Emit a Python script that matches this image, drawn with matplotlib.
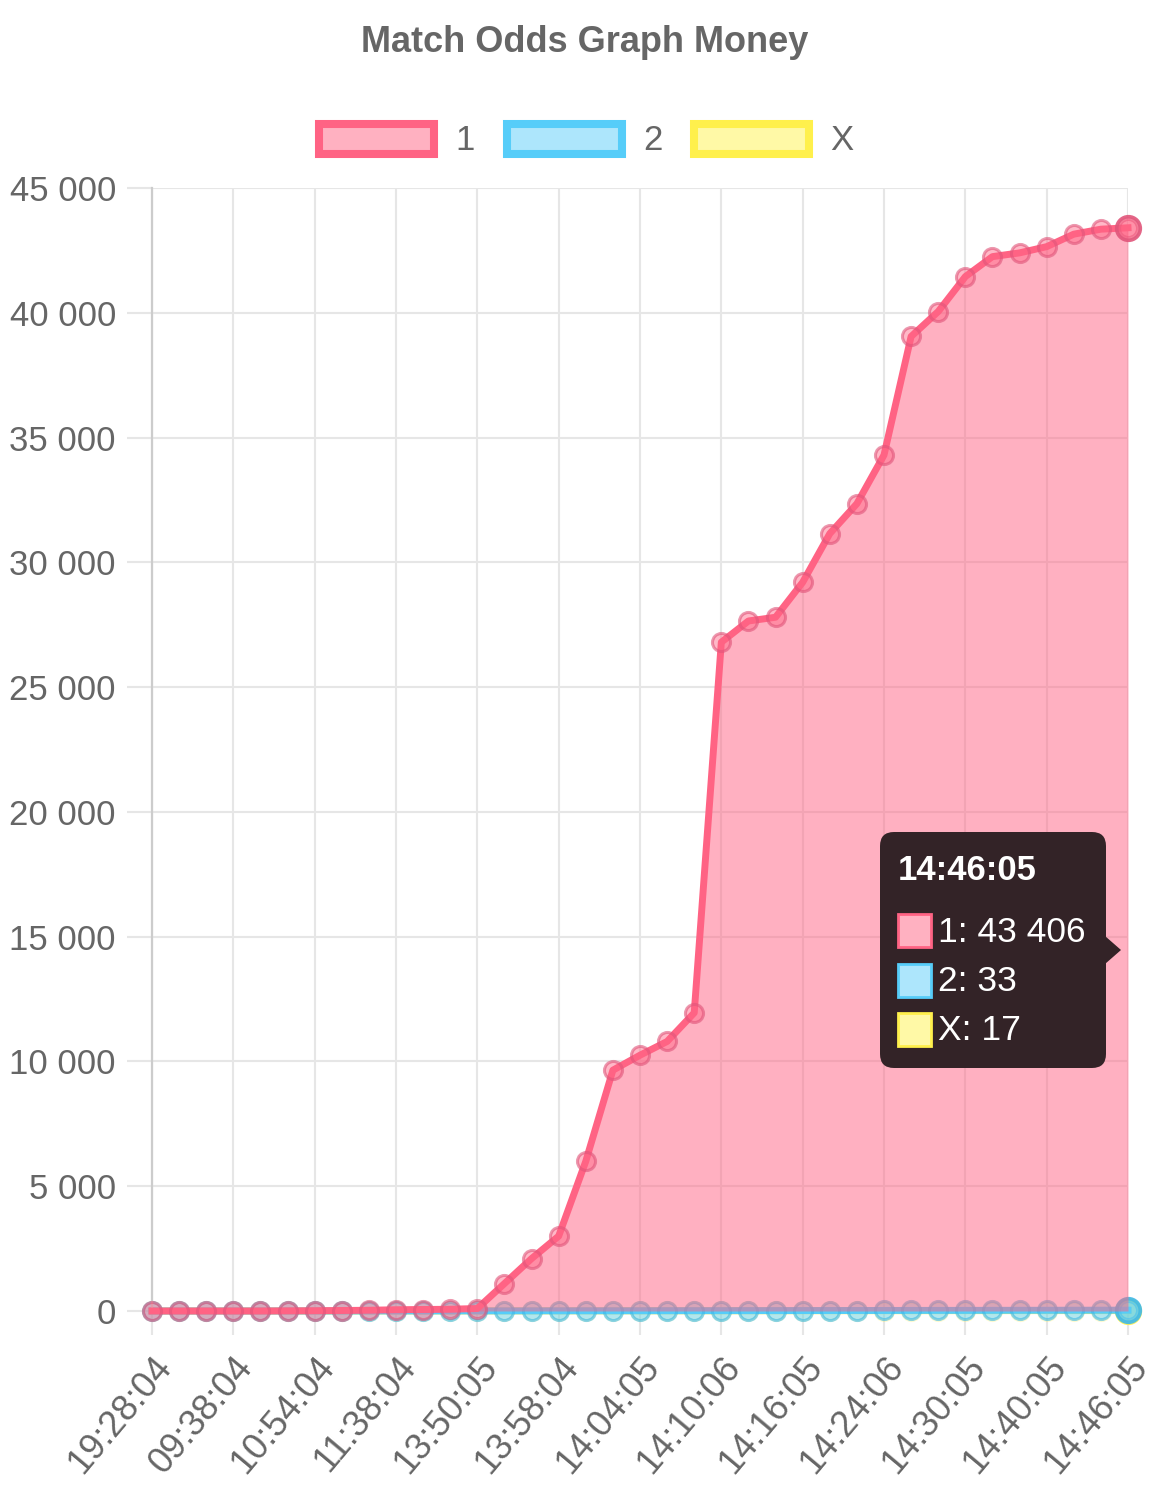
import matplotlib
matplotlib.use('Agg')
import matplotlib.pyplot as plt
from matplotlib.colors import to_rgba
from matplotlib.patches import Rectangle, FancyBboxPatch, Polygon
from matplotlib.ticker import FuncFormatter

plt.rcParams['font.family'] = ['Liberation Sans', 'DejaVu Sans']

title = 'Match Odds Graph Money'
series_names = ['1', '2', 'X']
tick_labels = ['19:28:04', '09:38:04', '10:54:04', '11:38:04', '13:50:05', '13:58:04',
               '14:04:05', '14:10:06', '14:16:05', '14:24:06', '14:30:05', '14:40:05', '14:46:05']
last_label = '14:46:05'

# money per point (37 points, one label shown every 3 points)
money_1 = [0, 0, 0, 0, 0, 5, 10, 20, 30, 50, 60, 70, 100, 1100, 2100, 3000, 6000, 9650,
           10250, 10800, 11950, 26800, 27650, 27800, 29200, 31150, 32350, 34300, 39050,
           40050, 41450, 42250, 42400, 42650, 43150, 43350, 43406]
money_2 = [0, 0, 0, 0, 0, 0, 0, 0, 1, 2, 2, 3, 4, 5, 7, 8, 9, 9, 10, 12, 13, 14, 15, 16,
           18, 19, 20, 21, 23, 24, 25, 27, 28, 29, 31, 32, 33]
money_x = [0, 0, 0, 0, 0, 0, 0, 0, 0, 1, 1, 1, 2, 3, 3, 4, 5, 5, 6, 6, 7, 8, 8, 9, 10,
           10, 11, 12, 12, 13, 14, 14, 15, 15, 16, 16, 17]

pink, pink_fill = '#ff6384', '#ffb1c1'
blue, blue_fill = '#56cdf9', '#ade6fc'
yellow, yellow_fill = '#fff04c', '#fff9a6'
grey = '#666666'

W, H = 1170, 1509
fig = plt.figure(figsize=(W / 100, H / 100), dpi=100)
ax = fig.add_axes([152 / W, (H - 1311) / H, (1128 - 152) / W, (1311 - 188) / H])

x = list(range(len(money_1)))
series = [(money_x, yellow, yellow_fill, 1), (money_2, blue, blue_fill, 2), (money_1, pink, pink_fill, 3)]
for vals, col, fcol, z in series:
    face_a, edge_a = (0.15, 0.25) if col == yellow else (0.45, 0.6)
    edge = '#e0557a' if col == pink else ('#3fb8e8' if col == blue else col)
    ax.fill_between(x, vals, 0, color=col, alpha=0.5, lw=0, zorder=z)
    ax.plot(x, vals, color=col, lw=5, zorder=z + 0.1, solid_joinstyle='round',
            marker='o', ms=13, mfc=to_rgba(col, face_a), mec=to_rgba(edge, edge_a), mew=2.2,
            clip_on=False)
    # hovered point
    ax.plot(x[-1], vals[-1], 'o', ms=17, mfc=to_rgba(col, 0.45),
            mec=to_rgba(edge, 0.9), mew=2.6, zorder=z + 0.2, clip_on=False)

ax.set_xlim(0, len(x) - 1)
ax.set_ylim(0, 45000)
ax.set_yticks(range(0, 45001, 5000))
ax.yaxis.set_major_formatter(FuncFormatter(lambda v, p: f'{int(v):,}'.replace(',', ' ')))
ax.set_xticks(range(0, len(x), 3))
ax.set_xticklabels(tick_labels, rotation=50, ha='right', va='top', rotation_mode='anchor')
ax.grid(True, color='#e6e6e6', lw=1.5, zorder=0)
ax.set_axisbelow(True)
for s in ['top', 'right', 'bottom']:
    ax.spines[s].set_visible(False)
ax.spines['left'].set_color('#cccccc')
ax.spines['left'].set_linewidth(1.6)
ax.tick_params(axis='y', length=18, width=1.5, color='#e6e6e6', pad=8, labelsize=25, labelcolor=grey)
ax.tick_params(axis='x', length=17, width=1.5, color='#e6e6e6', pad=11, labelsize=26, labelcolor=grey)

# overlay in pixel coordinates for title, legend and tooltip
ov = fig.add_axes([0, 0, 1, 1], zorder=10)
ov.set_xlim(0, W)
ov.set_ylim(H, 0)
ov.axis('off')

ov.text(585, 42, title, ha='center', va='center', fontsize=26, fontweight='bold', color=grey)

legend_x = [315, 503, 690]
for lx, name, (vals, col, fcol, z) in zip(legend_x, series_names, series[::-1]):
    ov.add_patch(Rectangle((lx + 4, 124), 115, 30, facecolor=fcol, edgecolor=col, lw=5.8))
    ov.text(lx + 140, 141, name, ha='left', va='center', fontsize=25, color=grey)

# tooltip
tip_bg = '#332327'
ov.add_patch(FancyBboxPatch((880, 832), 226, 236, boxstyle='round,pad=0,rounding_size=14',
                            facecolor=tip_bg, edgecolor='none'))
ov.add_patch(Polygon([(1105, 936), (1121, 950), (1105, 964)], closed=True, facecolor=tip_bg, edgecolor='none'))
ov.text(898, 871, last_label, ha='left', va='center', fontsize=25, fontweight='bold', color='white')
for i, (name, (vals, col, fcol, z)) in enumerate(zip(series_names, series[::-1])):
    cy = 931 + i * 49.5
    ov.add_patch(Rectangle((897.5, cy - 17), 33, 33, facecolor=fcol, edgecolor=col, lw=2))
    val = f'{vals[-1]:,}'.replace(',', ' ')
    ov.text(938, cy + 1, f'{name}: {val}', ha='left', va='center', fontsize=25.5, color='white')

fig.savefig('out.png', dpi=100)
